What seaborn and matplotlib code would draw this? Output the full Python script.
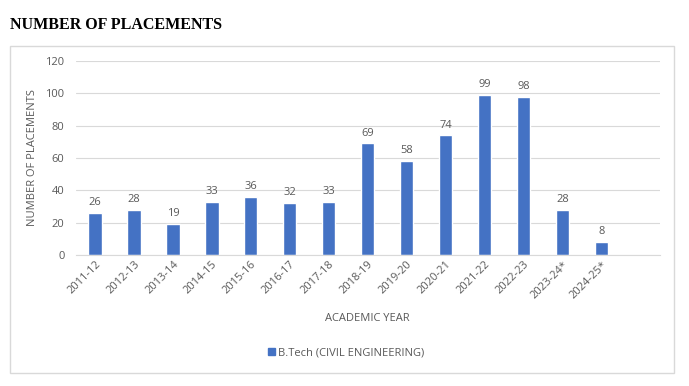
import matplotlib
matplotlib.use("Agg")
import matplotlib.pyplot as plt
import seaborn as sns
import pandas as pd
from matplotlib.patches import Rectangle

years = ["2011-12", "2012-13", "2013-14", "2014-15", "2015-16", "2016-17", "2017-18",
         "2018-19", "2019-20", "2020-21", "2021-22", "2022-23", "2023-24*", "2024-25*"]
placements = [26, 28, 19, 33, 36, 32, 33, 69, 58, 74, 99, 98, 28, 8]
series_name = "B.Tech (CIVIL ENGINEERING)"

sns.set_theme(style="white")
plt.rcParams['font.family'] = ['Open Sans', 'DejaVu Sans']

df = pd.DataFrame({"year": years, "placements": placements, "series": series_name})

W, H = 689, 386
fig = plt.figure(figsize=(W / 100, H / 100), dpi=100)
ax = fig.add_axes([75.5 / W, 1 - 255 / H, (660 - 75.5) / W, (255 - 61) / H])

bar_color = "#4472C4"
text_color = "#595959"
fs = 8

sns.barplot(data=df, x="year", y="placements", hue="series", palette=[bar_color],
            width=0.34, ax=ax, legend=False, saturation=1)

ax.set_xlim(-0.5, 14.5)
ax.set_ylim(0, 120)
ax.set_yticks(range(0, 121, 20))
ax.yaxis.grid(True, color="#D9D9D9", linewidth=0.8)
ax.set_axisbelow(True)
for s in ["top", "right", "left"]:
    ax.spines[s].set_visible(False)
ax.spines["bottom"].set_color("#D9D9D9")
ax.spines["bottom"].set_linewidth(0.8)
ax.tick_params(axis="both", length=0, colors=text_color, labelsize=fs, pad=3)
plt.setp(ax.get_xticklabels(), rotation=45, ha="right", rotation_mode="anchor")
ax.tick_params(axis="y", pad=8)

for p, v in zip(ax.patches, placements):
    ax.text(p.get_x() + p.get_width() / 2, v + 3, str(v), ha="center", va="bottom",
            fontsize=fs, color=text_color)

ax.set_xlabel("ACADEMIC YEAR", color=text_color, fontsize=fs)
ax.xaxis.set_label_coords((367 - 75.5) / (660 - 75.5), -(313 - 255) / (255 - 61))
ax.set_ylabel("NUMBER OF PLACEMENTS", color=text_color, fontsize=fs)
ax.yaxis.set_label_coords(-(75.5 - 38) / (660 - 75.5), 0.5)

# legend
handle = Rectangle((0, 0), 1, 1, color=bar_color)
fig.legend([handle], [series_name], loc="center", bbox_to_anchor=(346 / W, 1 - 353 / H),
           frameon=False, fontsize=fs, handlelength=0.6, handleheight=0.6,
           handletextpad=0.3, labelcolor=text_color)

# outer chart frame
fig.patches.append(Rectangle((10 / W, 1 - 373 / H), (674 - 10) / W, (373 - 46) / H,
                             transform=fig.transFigure, fill=False,
                             edgecolor="#D9D9D9", linewidth=1))

fig.text(10 / W, 1 - 25 / H, "NUMBER OF PLACEMENTS", fontsize=11.5, fontweight="bold",
         family=["Liberation Serif", "DejaVu Serif"], color="black", va="center", ha="left")

fig.savefig("out.png", dpi=100)
